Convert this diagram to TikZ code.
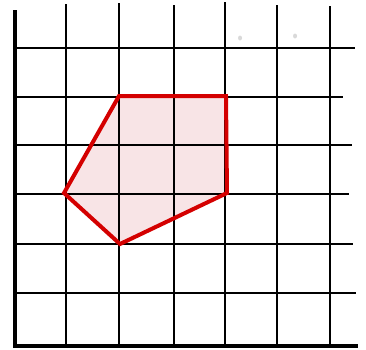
\documentclass[tikz,border=0pt]{standalone}
\definecolor{shapered}{RGB}{212,0,0}
\definecolor{shapefill}{RGB}{248,228,230}
\begin{document}
\begin{tikzpicture}[x=1pt,y=-1pt]
\useasboundingbox (0,0) rectangle (366,349);
% polygon corners
\coordinate (p1) at (119,96);
\coordinate (p2) at (226,96);
\coordinate (p3) at (227,193);
\coordinate (p4) at (120,244);
\coordinate (p5) at (64,193);
\fill[shapefill] (p1) -- (p2) -- (p3) -- (p4) -- (p5) -- cycle;
% grid
\foreach \x/\t in {66/4,119/3,174/5,225/2,277/5,330/6}
    \draw[line width=2pt] (\x,\t) -- (\x,345);
\foreach \y/\e in {48/355,97/343,145/352,194/349,244/353,293/356}
    \draw[line width=2pt] (15,\y) -- (\e,\y);
% axes
\draw[line width=4pt] (15,10) -- (15,346) -- (358,346);
% outline
\draw[shapered, line width=4pt, line join=miter]
    (p1) -- (p2) -- (p3) -- (p4) -- (p5) -- cycle;
% stray marks
\fill[black!15] (240,38) ellipse (2pt and 2.5pt);
\fill[black!15] (295,36) ellipse (2pt and 2.5pt);
\end{tikzpicture}
\end{document}
